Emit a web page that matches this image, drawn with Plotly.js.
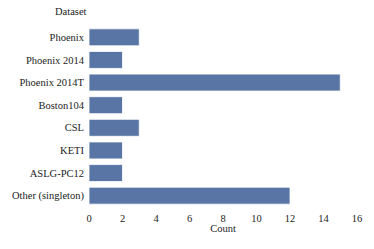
<!DOCTYPE html>
<html><head><meta charset="utf-8">
<script src="https://cdn.plot.ly/plotly-3.0.1.min.js"></script>
<style>html,body{margin:0;padding:0;background:#fff}#chart{width:374px;height:249px}</style>
</head><body><div id="chart"></div>
<script>
const datasets = ["Phoenix","Phoenix 2014","Phoenix 2014T","Boston104","CSL","KETI","ASLG-PC12","Other (singleton)"];
const counts = [3,2,15,2,3,2,2,12];
const xTicks = [0,2,4,6,8,10,12,14,16];
const fontFam = 'Liberation Serif, Times New Roman, serif';
Plotly.newPlot('chart',[{
  type:'bar', orientation:'h', x:counts, y:datasets,
  marker:{color:'#5875a5', line:{color:'#ffffff', width:0.8}},
  hoverinfo:'x+y'
}],{
  width:374, height:249,
  margin:{l:89,r:17,t:26,b:42},
  paper_bgcolor:'#fff', plot_bgcolor:'#fff',
  font:{family:fontFam, size:10.5, color:'#222'},
  bargap:0.25,
  showlegend:false,
  xaxis:{range:[0,16], tickvals:xTicks, ticktext:xTicks.map(String), showgrid:false, zeroline:false, showline:false, ticks:'', ticklabelstandoff:3,
    tickfont:{family:fontFam,size:10.5,color:'#222'},
    title:{text:'Count', standoff:2, font:{family:fontFam,size:10.5,color:'#222'}}},
  yaxis:{autorange:'reversed', categoryorder:'array', categoryarray:datasets, showgrid:false, zeroline:false, showline:false, ticks:'', ticklabelstandoff:4,
    tickfont:{family:fontFam,size:10.5,color:'#222'}},
  annotations:[{text:'Dataset', xref:'paper', yref:'paper', x:0, y:1, xanchor:'right', yanchor:'bottom', yshift:7, showarrow:false, font:{family:fontFam,size:10.5,color:'#222'}}]
},{displayModeBar:false, staticPlot:true});
</script></body></html>
